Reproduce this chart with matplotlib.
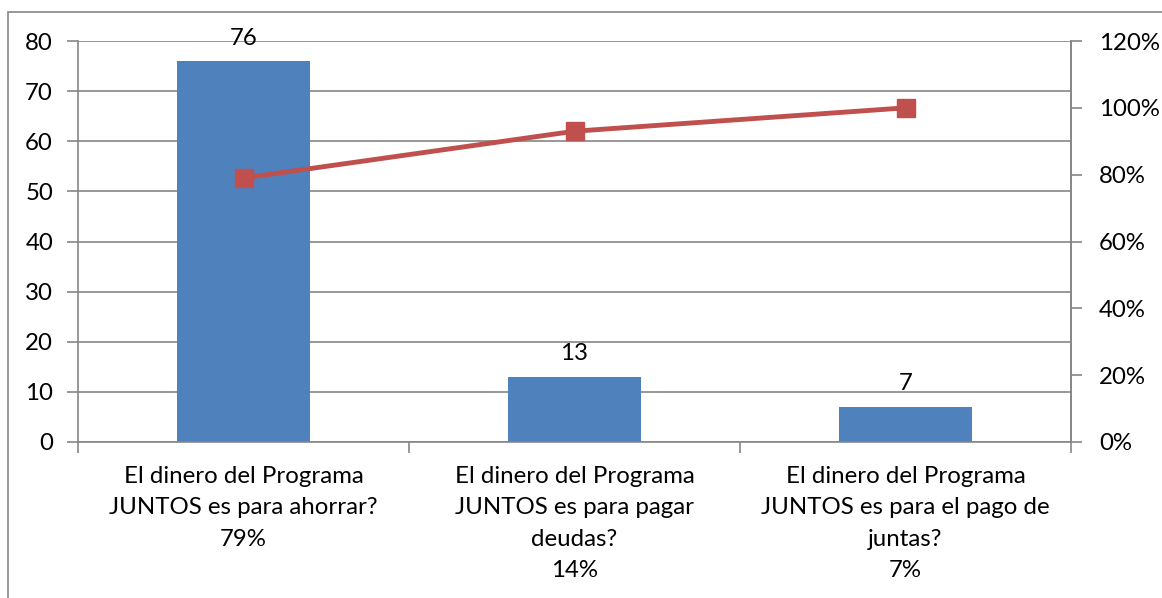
import matplotlib.pyplot as plt
from matplotlib.patches import Rectangle
from matplotlib.ticker import FuncFormatter

plt.rcParams['font.family'] = ['Lato', 'DejaVu Sans']

categories = [
    "El dinero del Programa\nJUNTOS es para ahorrar?",
    "El dinero del Programa\nJUNTOS es para pagar\ndeudas?",
    "El dinero del Programa\nJUNTOS es para el pago de\njuntas?",
]
counts = [76, 13, 7]
shares = ["79%", "14%", "7%"]
cumulative = [79, 93, 100]

W, H = 1162, 598
GRID = '#868686'
FS = 17.3

fig = plt.figure(figsize=(W / 100, H / 100), dpi=100)
ax = fig.add_axes([78 / W, 1 - 442 / H, (1071 - 78) / W, (442 - 41) / H])

# outer chart frame
fig.patches.append(Rectangle((8 / W, -0.1), 1.2, 1 - 12 / H + 0.1, transform=fig.transFigure,
                             fill=False, edgecolor=GRID, linewidth=1.2))

x = list(range(len(categories)))
bars = ax.bar(x, counts, width=0.4, color='#4F81BD', zorder=2)
for b, v in zip(bars, counts):
    ax.annotate(str(v), (b.get_x() + b.get_width() / 2, v), xytext=(0, 9),
                textcoords='offset points', ha='center', va='bottom', fontsize=FS)

ax.set_xlim(-0.5, len(categories) - 0.5)
ax.set_ylim(0, 80)
ax.set_yticks(range(0, 81, 10))
ax.yaxis.grid(True, color=GRID, linewidth=1.2, zorder=0)
ax.set_axisbelow(True)

ax.set_xticks(x)
ax.set_xticklabels([c + "\n" + s for c, s in zip(categories, shares)], fontsize=FS, linespacing=1.62)
ax.tick_params(axis='x', length=0, pad=17)
ax.set_xticks([i - 0.5 for i in range(len(categories) + 1)], minor=True)
ax.tick_params(axis='x', which='minor', length=8, color=GRID, width=1.2)
ax.tick_params(axis='y', length=8, color=GRID, width=1.2, labelsize=FS, pad=10)

ax.spines['top'].set_visible(False)
for s in ['left', 'bottom', 'right']:
    ax.spines[s].set_color(GRID)
    ax.spines[s].set_linewidth(1.2)

ax2 = ax.twinx()
ax2.plot(x, cumulative, color='#C0504D', linewidth=3.5, marker='s', markersize=13, zorder=3)
ax2.set_ylim(0, 120)
ax2.set_yticks(range(0, 121, 20))
ax2.yaxis.set_major_formatter(FuncFormatter(lambda v, p: f"{int(v)}%"))
ax2.tick_params(axis='y', length=8, color=GRID, width=1.2, labelsize=FS, pad=12)
for s in ['top', 'left', 'bottom']:
    ax2.spines[s].set_visible(False)
ax2.spines['right'].set_color(GRID)
ax2.spines['right'].set_linewidth(1.2)

fig.savefig('out.png', dpi=100)
